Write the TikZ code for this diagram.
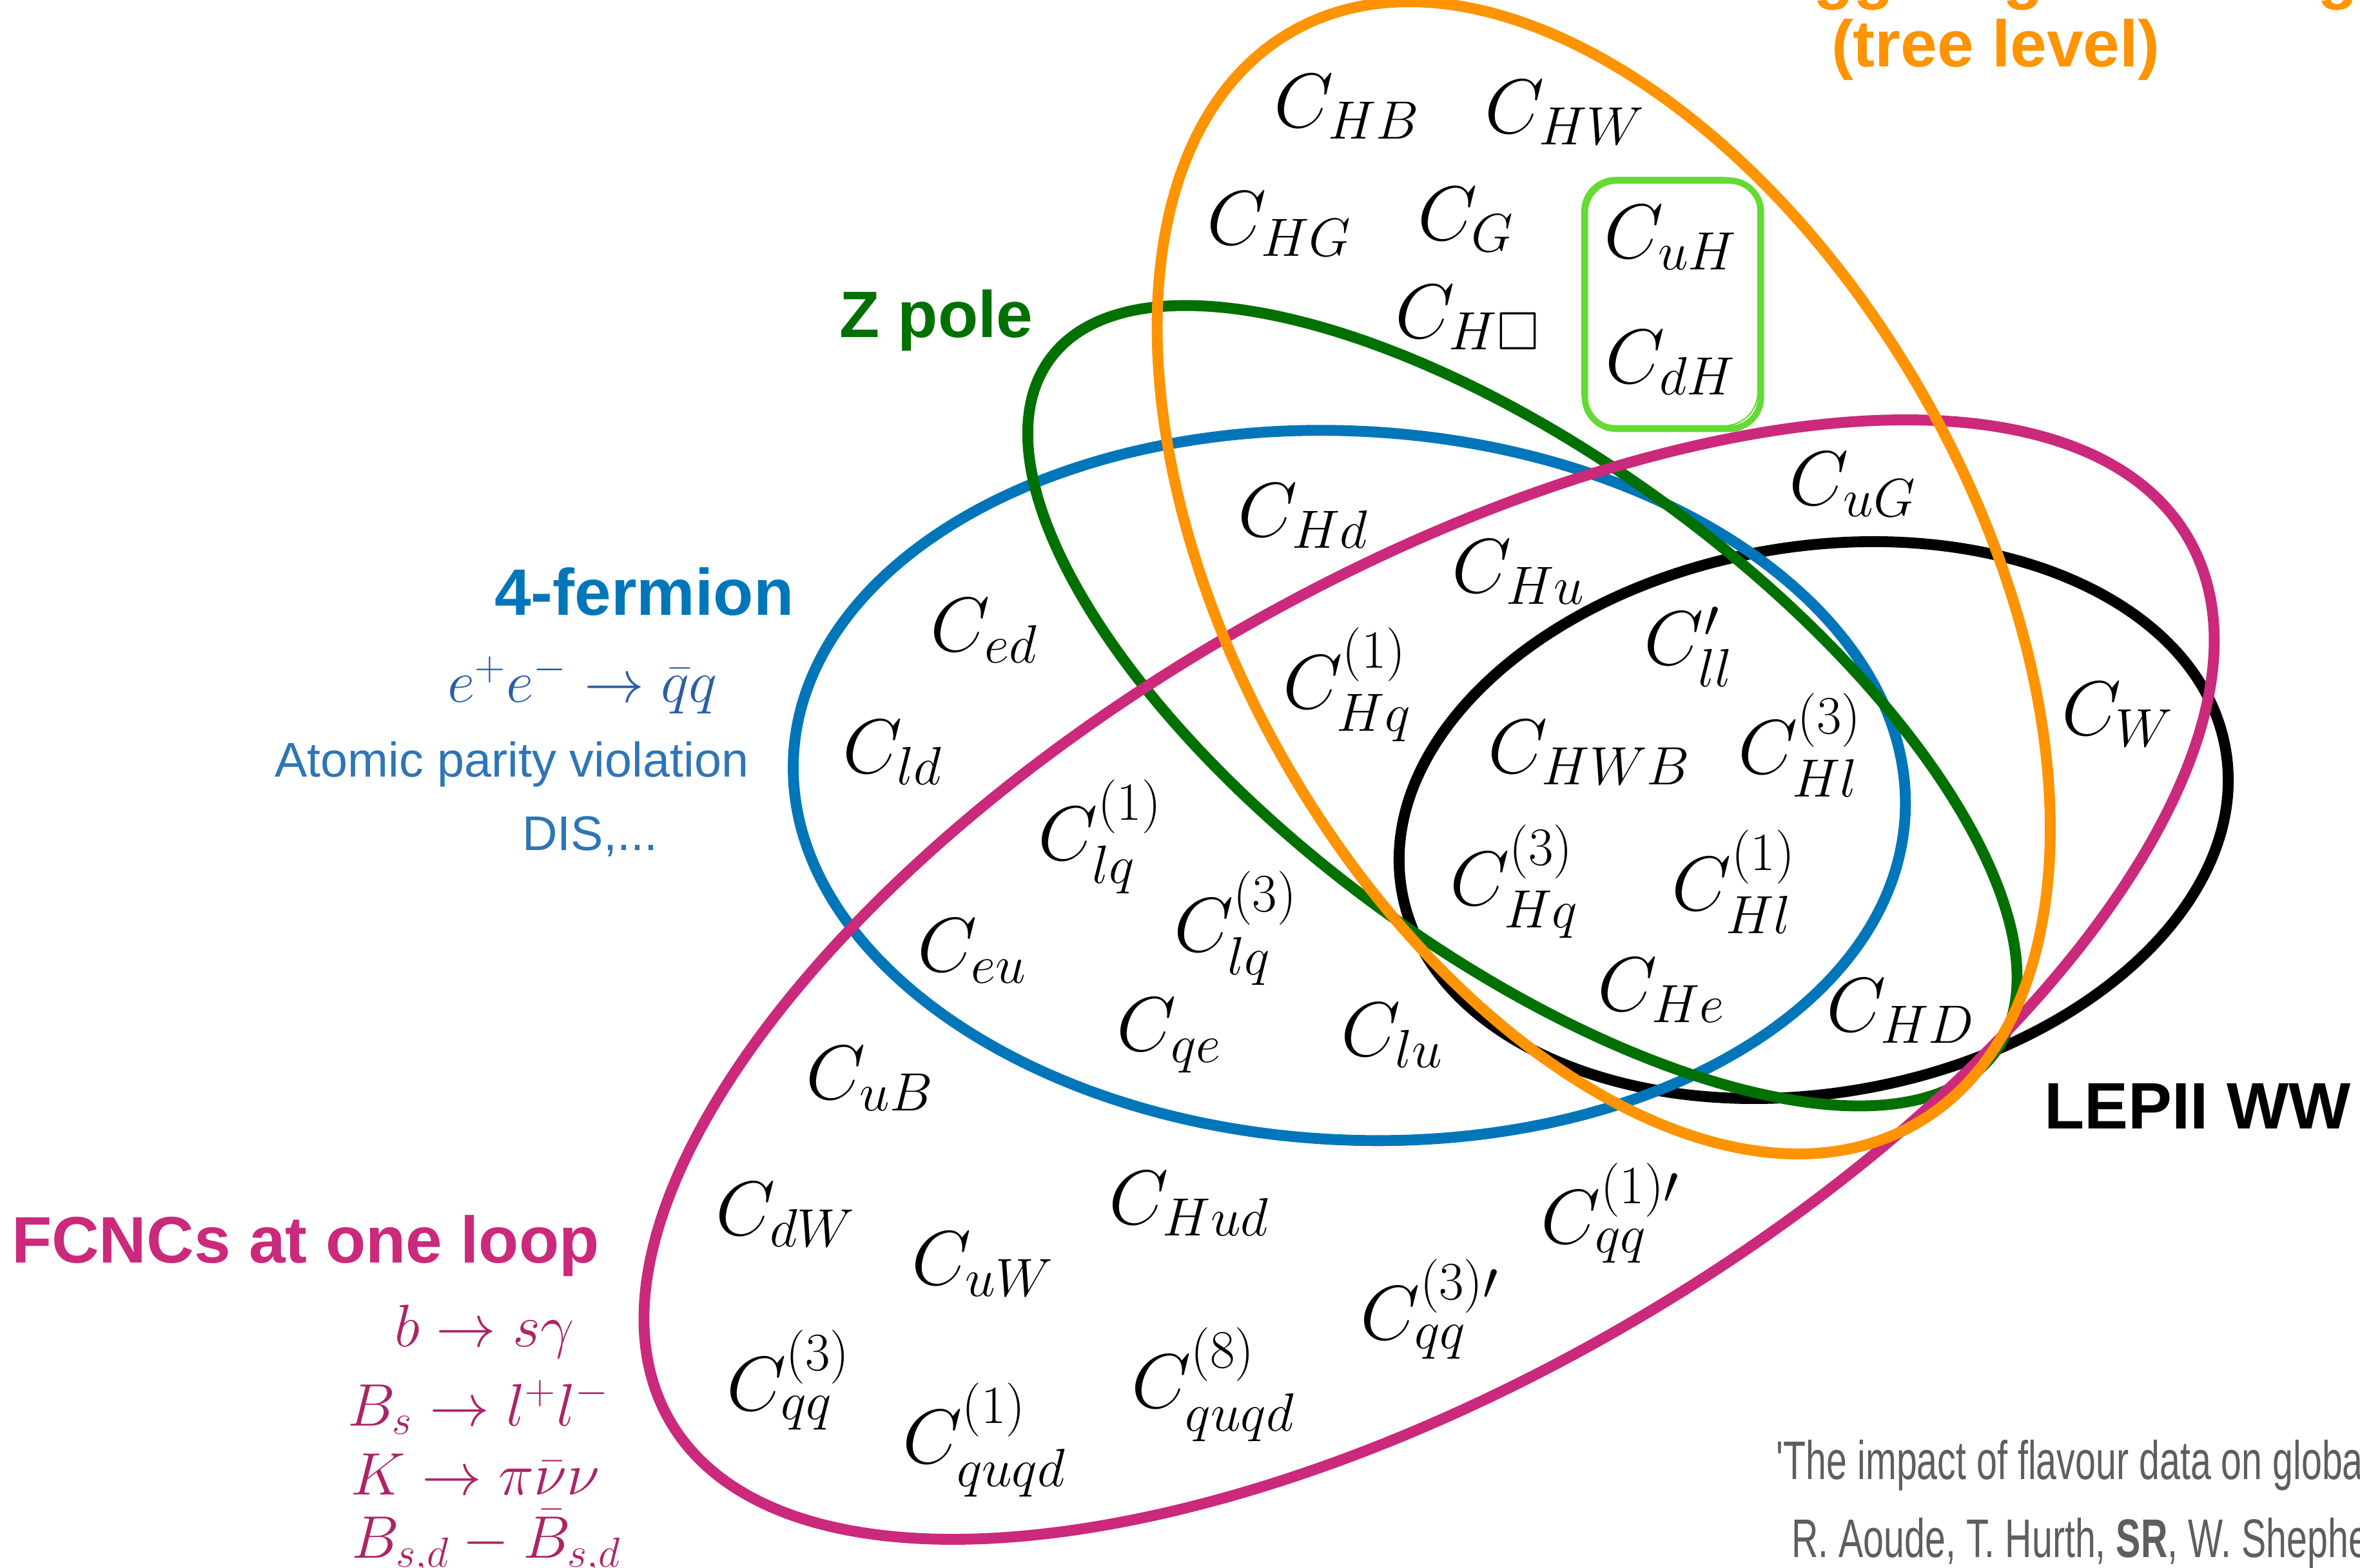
\RequirePackage{fix-cm}
\documentclass[tikz,border=0pt]{standalone}
\usepackage{amssymb}
\usepackage{fontspec}
\newfontfamily\headfont{Liberation Sans}

\definecolor{higgsorange}{RGB}{255,147,0}
\definecolor{zgreen}{RGB}{0,112,0}
\definecolor{fermblue}{RGB}{0,118,186}
\definecolor{fcncpink}{RGB}{203,41,123}
\definecolor{yukgreen}{RGB}{100,218,50}
\definecolor{mathblue}{RGB}{42,94,166}
\definecolor{textblue}{RGB}{46,117,182}
\definecolor{mathpink}{RGB}{172,36,104}
\definecolor{creditgray}{RGB}{94,94,94}

\tikzset{
  set/.style={line width=4.8pt},
  op/.style={font=\fontsize{34}{40}\selectfont, inner sep=0pt},
  head/.style={font=\headfont\bfseries\fontsize{29}{34}\selectfont, inner sep=0pt},
  note/.style={font=\headfont\fontsize{21.5}{26}\selectfont, inner sep=0pt},
  proc/.style={font=\fontsize{26.5}{32}\selectfont, inner sep=0pt},
  credit/.style={font=\headfont\fontsize{24}{29}\selectfont, text=creditgray, inner sep=0pt, anchor=base west},
}

\begin{document}
\begin{tikzpicture}[x=0.02335cm,y=-0.02335cm]

\useasboundingbox (0,0) rectangle (1568,1042);

% the five sets
\draw[set,black,rotate around={9.7:(1205,545)}] (1205,545) ellipse [x radius=277.7, y radius=181.6];
\draw[set,fermblue,rotate around={-3.1:(896.5,522)}] (896.5,522) ellipse [x radius=369.8, y radius=235.5];
\draw[set,zgreen,rotate around={-36.3:(1011.5,469)}] (1011.5,469) ellipse [x radius=389.4, y radius=164.5];
\draw[set,fcncpink,rotate around={30.2:(949.5,651)}] (949.5,651) ellipse [x radius=583.5, y radius=264.4];
\draw[set,higgsorange,rotate around={-60.3:(1065.5,384)}] (1065.5,384) ellipse [x radius=418, y radius=244.6];

% Yukawa box, hand-drawn look
\draw[yukgreen,line width=2.8pt,rounded corners=14pt] (1053,120) rectangle (1170,285);
\draw[yukgreen,line width=0.6pt,rounded corners=15pt] (1051,118) rectangle (1168,283);

% set labels
\node[head,text=higgsorange,anchor=base west] (higgs) at (1161,-2.5) {Higgs signal strengths};
\node[head,text=higgsorange] (tree) at (1326,33) {(tree level)};
\node[head,text=zgreen] (zpole) at (622,213) {Z pole};
\node[head,text=fermblue] (ferm) at (428,393) {4-fermion};
\node[proc,text=mathblue] (eeqq) at (387,455) {$e^+e^-\to\bar{q}q$};
\node[note,text=textblue] (apv) at (340,508) {Atomic parity violation};
\node[note,text=textblue] (dis) at (392,556) {DIS,...};
\node[head,text=fcncpink] (fcnc) at (203,828) {FCNCs at one loop};
\node[proc,text=mathpink] (bsg) at (322,885) {$b\to s\gamma$};
\node[proc,text=mathpink] (bsll) at (318,935) {$B_s\to l^+l^-$};
\node[proc,text=mathpink] (kpnn) at (316,980) {$K\to\pi\bar{\nu}\nu$};
\node[proc,text=mathpink] (bmix) at (323,1025) {$B_{s,d}-\bar{B}_{s,d}$};
\node[head] (lep) at (1460,735) {LEPII WW};

% operators
\node[op] (cHB) at (895,71) {$C_{HB}$};
\node[op] (cHW) at (1040,75) {$C_{HW}$};
\node[op] (cHG) at (850,149) {$C_{HG}$};
\node[op] (cG) at (974,146) {$C_{G}$};
\node[op] (cuH) at (1110,158) {$C_{uH}$};
\node[op] (cHbox) at (975,211) {$C_{H\Box}$};
\node[op] (cdH) at (1110,241) {$C_{dH}$};
\node[op] (cuG) at (1231,322) {$C_{uG}$};
\node[op] (cHd) at (866,343) {$C_{Hd}$};
\node[op] (cHu) at (1009,380) {$C_{Hu}$};
\node[op] (ced) at (654,419) {$C_{ed}$};
\node[op] (cll) at (1122,430) {$C'_{ll}$};
\node[op] (cHq1) at (895,455) {$C^{(1)}_{Hq}$};
\node[op] (cW) at (1407,475) {$C_{W}$};
\node[op] (cld) at (593,500) {$C_{ld}$};
\node[op] (cHWB) at (1056,500) {$C_{HWB}$};
\node[op] (cHl3) at (1196,495) {$C^{(3)}_{Hl}$};
\node[op] (clq1) at (731,556) {$C^{(1)}_{lq}$};
\node[op] (cHq3) at (1006,586) {$C^{(3)}_{Hq}$};
\node[op] (cHl1) at (1152,586) {$C^{(1)}_{Hl}$};
\node[op] (clq3) at (821,617) {$C^{(3)}_{lq}$};
\node[op] (ceu) at (646,632) {$C_{eu}$};
\node[op] (cHe) at (1104,658) {$C_{He}$};
\node[op] (cHD) at (1263,672) {$C_{HD}$};
\node[op] (cqe) at (777,688) {$C_{qe}$};
\node[op] (clu) at (925,688) {$C_{lu}$};
\node[op] (cuB) at (578,717) {$C_{uB}$};
\node[op] (cHud) at (790,800) {$C_{Hud}$};
\node[op] (cqq1p) at (1070,806) {$C^{(1)\prime}_{qq}$};
\node[op] (cdW) at (522,807) {$C_{dW}$};
\node[op] (cuW) at (653,840) {$C_{uW}$};
\node[op] (cqq3p) at (950,870) {$C^{(3)\prime}_{qq}$};
\node[op] (cqq3) at (524,917) {$C^{(3)}_{qq}$};
\node[op] (cquqd8) at (806,920) {$C^{(8)}_{quqd}$};
\node[op] (cquqd1) at (654,957) {$C^{(1)}_{quqd}$};

% reference
\node[credit] (paper) at (1180,983) {\scalebox{0.68}[1]{'The impact of flavour data on global fits of the MFV SMEFT'}};
\node[credit] (authors) at (1190,1035) {\scalebox{0.68}[1]{R. Aoude, T. Hurth, \textbf{SR}, W. Shepherd}};

\end{tikzpicture}
\end{document}
